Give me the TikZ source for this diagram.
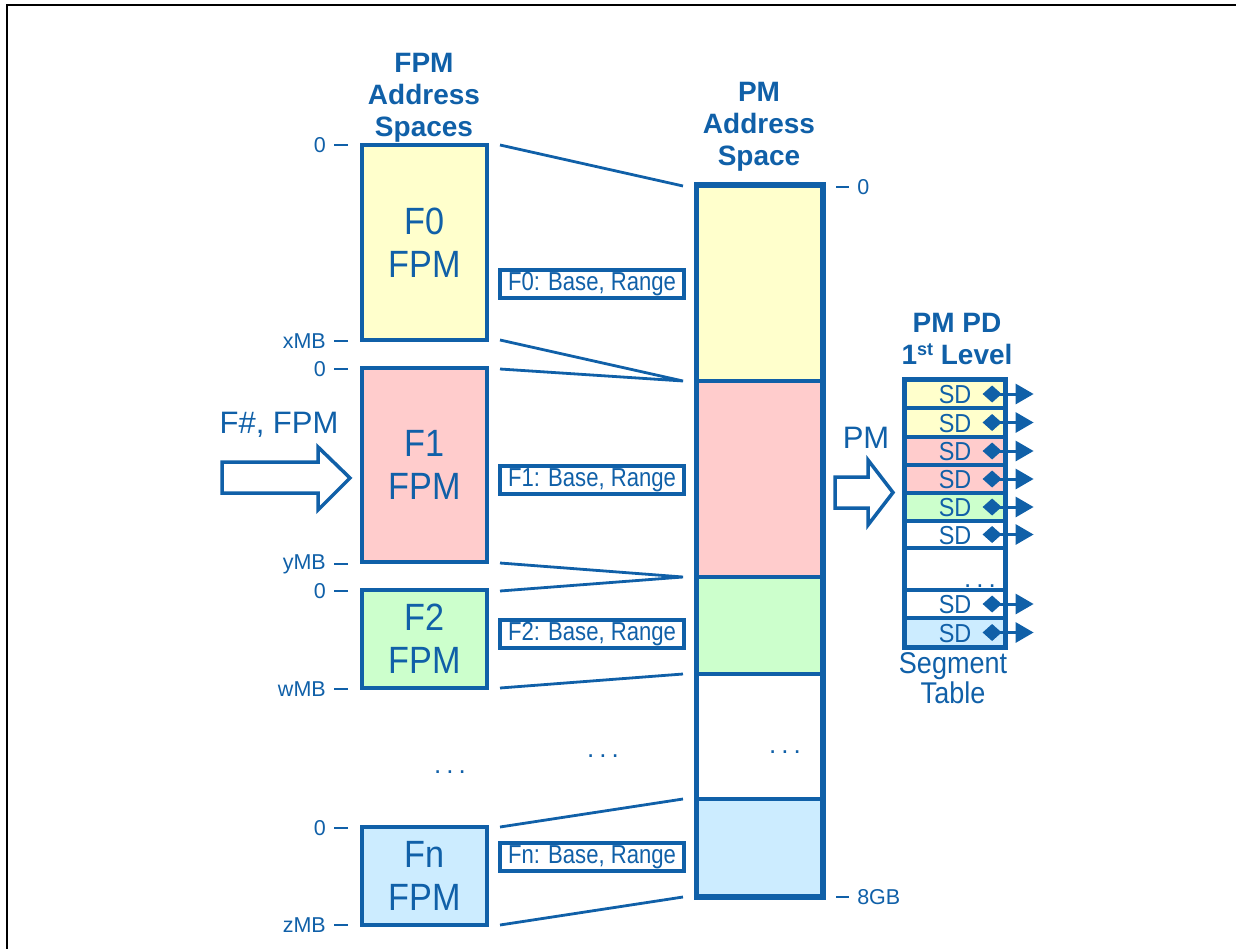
\documentclass[tikz,border=0pt]{standalone}
\usepackage{fontspec}
\setmainfont{Liberation Sans}
\newfontfamily\nar[FakeStretch=0.9]{Liberation Sans}
\newfontfamily\narr[FakeStretch=0.85]{Liberation Sans}
\usetikzlibrary{arrows.meta,calc}
\definecolor{ib}{RGB}{16,96,168}
\definecolor{fy}{RGB}{255,255,204}
\definecolor{fp}{RGB}{255,204,204}
\definecolor{fg}{RGB}{204,255,204}
\definecolor{fb}{RGB}{204,236,255}
\tikzset{
  fpm/.style={draw=ib, line width=3.5pt, minimum width=125pt, align=center, text=ib, inner sep=0pt,
    font=\nar\fontsize{38}{43}\selectfont},
  seg/.style={draw=ib, line width=3.5pt, minimum width=125pt, inner sep=0pt},
  lbl/.style={draw=ib, line width=3.5pt, minimum width=184pt, minimum height=28pt, inner sep=0pt, text=ib,
    font=\narr\fontsize{26}{28}\selectfont},
  tick/.style={draw=ib, line width=2.5pt},
  ticklbl/.style={text=ib, inner sep=0pt, font=\fontsize{21.5}{23}\selectfont},
  conn/.style={draw=ib, line width=2.8pt},
  title/.style={text=ib, align=center, inner sep=0pt, font=\bfseries\fontsize{28}{32}\selectfont},
  row/.style={draw=ib, line width=3.2pt, minimum width=100pt, inner sep=0pt},
  sd/.style={text=ib, inner sep=0pt, font=\nar\fontsize{26}{28}\selectfont},
  sdarrow/.style={draw=ib, line width=3pt, {Diamond[width=17pt,length=19pt]}-{Triangle[width=20pt,length=18pt]}},
  big/.style={text=ib, inner sep=0pt, font=\fontsize{31}{34}\selectfont},
  hollow/.style={draw=ib, line width=3.5pt, fill=white, line join=miter},
  dots/.style={text=ib, inner sep=0pt, font=\fontsize{26}{28}\selectfont}
}
\begin{document}
\begin{tikzpicture}[x=1pt,y=-1pt]
\useasboundingbox (0,0) rectangle (1236,949);
% frame
\draw[black, line width=2pt] (7,949) -- (7,5) -- (1236,5);

% titles
\node[title] (t1) at (424,98) {FPM\\Address\\Spaces};
\node[title] (t2) at (759,127) {PM\\Address\\Space};

% FPM boxes
\node[fpm, fill=fy, minimum height=195pt] (f0) at (424.5,242.5) {F0\\FPM};
\node[fpm, fill=fp, minimum height=194pt] (f1) at (424.5,465) {F1\\FPM};
\node[fpm, fill=fg, minimum height=98pt] (f2) at (424.5,639) {F2\\FPM};
\node[fpm, fill=fb, minimum height=98pt] (fn) at (424.5,876) {Fn\\FPM};

% PM segments
\node[seg, fill=fy, minimum height=195pt] (p0) at (759.5,283.5) {};
\node[seg, fill=fp, minimum height=196pt] (p1) at (759.5,479) {};
\node[seg, fill=fg, minimum height=97pt] (p2) at (759.5,625.5) {};
\node[seg, fill=white, minimum height=125pt] (p3) at (759.5,736.5) {};
\node[seg, fill=fb, minimum height=97pt] (p4) at (759.5,847.5) {};
\draw[ib, line width=3.5pt] (p0.north west) rectangle (p4.south east);

% left ticks
\foreach \y/\t/\n in {145/0/a,341/xMB/b,369/0/c,564/yMB/d,591/0/e,689/wMB/f,828/0/g,925/zMB/h}{
  \coordinate (tk\n) at (348,\y);
  \draw[tick] (tk\n) -- ++(-14,0) node[ticklbl, anchor=east, xshift=-7pt] (tl\n) {\t};
}
% right ticks
\coordinate (rk0) at (836,187);
\coordinate (rk1) at (836,897);
\draw[tick] (rk0) -- ++(13,0) node[ticklbl, anchor=west, xshift=7pt] (rl0) {0};
\draw[tick] (rk1) -- ++(13,0) node[ticklbl, anchor=west, xshift=7pt] (rl1) {8GB};

% connectors
\coordinate (c0a) at (500,145); \coordinate (d0a) at (683,186);
\coordinate (c0b) at (500,340); \coordinate (d0b) at (683,381);
\coordinate (c1a) at (500,369);
\coordinate (c1b) at (500,563); \coordinate (d1b) at (683,577);
\coordinate (c2a) at (500,591);
\coordinate (c2b) at (500,688); \coordinate (d2b) at (683,674);
\coordinate (cna) at (500,827); \coordinate (dna) at (683,799);
\coordinate (cnb) at (500,925); \coordinate (dnb) at (683,897);
\draw[conn] (c0a) -- (d0a);
\draw[conn] (c0b) -- (d0b) -- (c1a);
\draw[conn] (c1b) -- (d1b) -- (c2a);
\draw[conn] (c2b) -- (d2b);
\draw[conn] (cna) -- (dna);
\draw[conn] (cnb) -- (dnb);

% label boxes
\node[lbl, fill=white] (l0) at (592,284) {F0: Base, Range};
\node[lbl, fill=white] (l1) at (592,480) {F1: Base, Range};
\node[lbl, fill=white] (l2) at (592,634) {F2: Base, Range};
\node[lbl, fill=white] (ln) at (592,857) {Fn: Base, Range};

% dots
\node[dots, anchor=base] (dt1) at (450,773) {.\hspace{5pt}.\hspace{5pt}.};
\node[dots, anchor=base] (dt2) at (603,757) {.\hspace{5pt}.\hspace{5pt}.};
\node[dots, anchor=base] (dt3) at (785,753) {.\hspace{5pt}.\hspace{5pt}.};

% F#, FPM arrow
\node[big] (fl) at (279,425) {F\#, FPM};
\draw[hollow] (222,462) -- (318,462) -- (318,447) -- (350,478) -- (318,510) -- (318,493) -- (222,493) -- cycle;

% PM arrow
\node[big] (pml) at (866,438) {PM};
\draw[hollow] (835,477) -- (868,477) -- (868,460) -- (893,492.5) -- (868,525) -- (868,508) -- (835,508) -- cycle;

% segment table title
\node[title] (t3) at (957,339) {PM PD\\1{\fontsize{18}{20}\selectfont\raisebox{9pt}{st}} Level};

% segment table rows
\node[row, fill=fy, minimum height=28pt] (r1) at (955,394) {};
\node[row, fill=fy, minimum height=29pt] (r2) at (955,422.5) {};
\node[row, fill=fp, minimum height=28pt] (r3) at (955,451) {};
\node[row, fill=fp, minimum height=28pt] (r4) at (955,479) {};
\node[row, fill=fg, minimum height=28pt] (r5) at (955,507) {};
\node[row, fill=white, minimum height=27pt] (r6) at (955,534.5) {};
\node[row, fill=white, minimum height=42pt] (r7) at (955,569) {};
\node[row, fill=white, minimum height=28pt] (r8) at (955,604) {};
\node[row, fill=fb, minimum height=29pt] (r9) at (955,632.5) {};
\draw[ib, line width=3.5pt] (r1.north west) rectangle (r9.south east);
\node[dots, anchor=base] (dt4) at (980,587) {.\hspace{5pt}.\hspace{5pt}.};

\foreach \r in {r1,r2,r3,r4,r5,r6,r8,r9}{
  \node[sd] at ($(\r)+(0,1)$) {SD};
  \draw[sdarrow] ($(\r.east)+(-24,0)$) -- ($(\r.east)+(27,0)$);
}

\node[big, align=center, font=\nar\fontsize{30}{30}\selectfont] (st) at (953,678) {Segment\\Table};
\end{tikzpicture}
\end{document}
